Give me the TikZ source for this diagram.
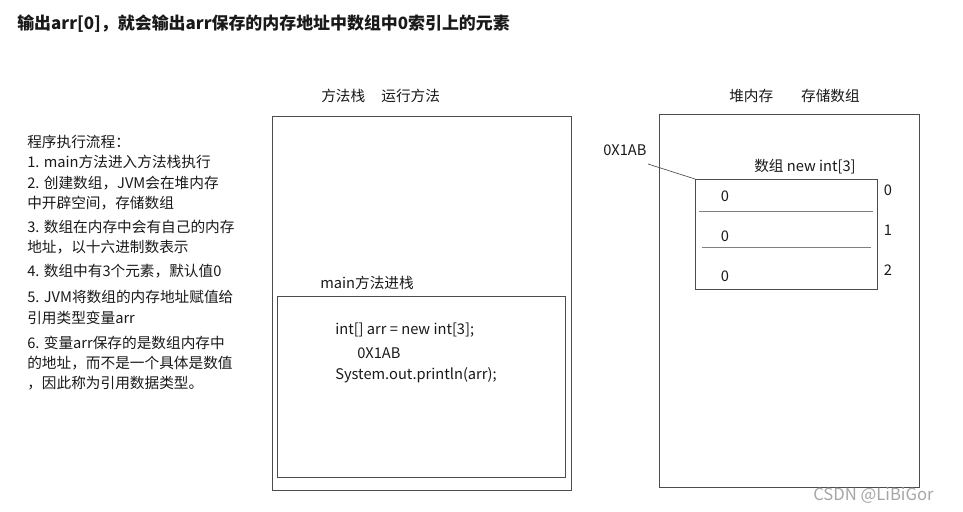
\documentclass[tikz,border=0pt]{standalone}
\usepackage{fontspec}
\setmainfont{Noto Sans CJK SC}
\usetikzlibrary{positioning}

\begin{document}
\begin{tikzpicture}[x=0.75pt, y=-0.75pt,
  every node/.style={inner sep=0pt, text=black!90, font=\fontsize{11}{13}\selectfont},
  frame/.style={draw=black!70, line width=0.75pt},
  divider/.style={draw=black!50, line width=0.75pt}]

  \useasboundingbox (0,0) rectangle (963,511);

  % --- Title -------------------------------------------------------
  \node[anchor=west, font=\bfseries\fontsize{12.7}{15}\selectfont] (title) at (17,24)
    {输出arr[0]，就会输出arr保存的内存地址中数组中0索引上的元素};

  % --- Execution notes (left column) -------------------------------
  \foreach \y/\txt [count=\i] in {
      142/程序执行流程：,
      162/1. main方法进入方法栈执行,
      183/2. 创建数组，JVM会在堆内存,
      203/中开辟空间，存储数组,
      227/3. 数组在内存中会有自己的内存,
      247/地址，以十六进制数表示,
      271/4. 数组中有3个元素，默认值0,
      297/5. JVM将数组的内存地址赋值给,
      318/引用类型变量arr,
      343/6. 变量arr保存的是数组内存中,
      363/的地址，而不是一个具体是数值,
      383/，因此称为引用数据类型。}
    \node[anchor=west] (note\i) at (27,\y) {\txt};

  % --- Method stack ------------------------------------------------
  \node[anchor=west] (stacklbl) at (321,96) {方法栈\hspace{1.1em}运行方法};
  \node[frame, anchor=north west, minimum width=299*0.75pt,
        minimum height=374*0.75pt] (stack) at (272,116) {};
  \node[anchor=west] (mainlbl) at (320,283) {main方法进栈};
  \node[frame, anchor=north west, minimum width=288*0.75pt,
        minimum height=181*0.75pt] (mainframe) at (277,296) {};
  \node[anchor=west] (code1) at (335,330) {int[] arr\ =\ new int[3];};
  \node[anchor=west] (code2) at (357,353) {0X1AB};
  \node[anchor=west] (code3) at (335,375) {System.out.println(arr);};

  % --- Heap --------------------------------------------------------
  \node[anchor=west] (heaplbl) at (729,96) {堆内存\hspace{1.9em}存储数组};
  \node[frame, anchor=north west, minimum width=260*0.75pt,
        minimum height=373*0.75pt] (heap) at (659,114) {};
  \node[anchor=west] (arrlbl) at (754,167) {数组 new int[3]};
  \node[frame, anchor=north west, minimum width=182*0.75pt,
        minimum height=110*0.75pt] (arrbox) at (695,179) {};
  \draw[divider] (699,211) -- (873,211);
  \draw[divider] (702,247) -- (871,247);

  % array cells and their indices
  \foreach \y/\k in {196/0, 236/1, 276/2} {
    \node (val\k) at (725,\y) {0};
    \node (idx\k) at (888,\y-6) {\k};
  }

  % address pointer
  \node[anchor=west] (addr) at (603,150) {0X1AB};
  \coordinate (addrtail) at (648,164);
  \draw[black!70, line width=0.5pt] (addrtail) -- (arrbox.north west);

  % watermark
  \node[anchor=west, text=black!35, font=\fontsize{12.5}{14}\selectfont] (mark) at (813,495)
    {CSDN @LiBiGor};
\end{tikzpicture}
\end{document}
